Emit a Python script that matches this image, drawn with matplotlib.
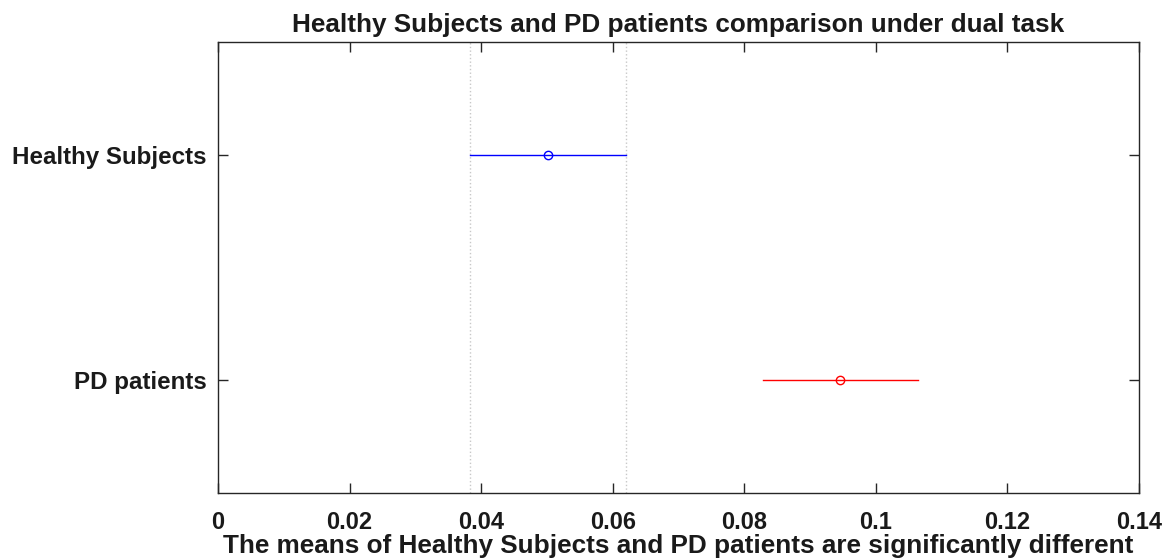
import matplotlib.pyplot as plt

plt.rcParams['font.family'] = ['Liberation Sans', 'DejaVu Sans']

groups = ["Healthy Subjects", "PD patients"]
means = [0.0501, 0.0945]
lower = [0.0383, 0.0828]
upper = [0.0620, 0.1064]
colors = ["blue", "red"]
xticks = [0, 0.02, 0.04, 0.06, 0.08, 0.1, 0.12, 0.14]
xtick_labels = ["0", "0.02", "0.04", "0.06", "0.08", "0.1", "0.12", "0.14"]

fig = plt.figure(figsize=(11.67, 5.59), dpi=100)
ax = fig.add_axes([218 / 1167, 1 - 493 / 559, 921 / 1167, 451 / 559])

ypos = [1, 2]
for y, m, lo, hi, c in zip(ypos, means, lower, upper, colors):
    ax.plot([lo, hi], [y, y], color=c, lw=1.0)
    ax.plot(m, y, 'o', mfc='none', mec=c, ms=6, mew=1.0)

# reference interval of the first group
ax.axvline(lower[0], color='#c8c8c8', ls=':', lw=1.0, zorder=0)
ax.axvline(upper[0], color='#c8c8c8', ls=':', lw=1.0, zorder=0)

ax.set_xlim(0, 0.14)
ax.set_ylim(2.5, 0.5)
ax.set_xticks(xticks)
ax.set_xticklabels(xtick_labels)
ax.set_yticks(ypos)
ax.set_yticklabels(groups)

ax.tick_params(direction='in', top=True, right=True, length=7, width=1,
               colors='#262626', labelcolor='#1a1a1a')
ax.tick_params(axis='x', pad=13, labelsize=17)
ax.tick_params(axis='y', pad=8, labelsize=17.4)
for lab in ax.get_xticklabels() + ax.get_yticklabels():
    lab.set_fontweight('bold')
for s in ax.spines.values():
    s.set_color('#262626')
    s.set_linewidth(1.0)

ax.set_title("Healthy Subjects and PD patients comparison under dual task",
             fontsize=18.8, fontweight='bold', pad=7, color='#1a1a1a')
ax.set_xlabel("The means of Healthy Subjects and PD patients are significantly different",
              fontsize=18.8, fontweight='bold', labelpad=0, color='#1a1a1a')

fig.savefig("out.png", dpi=100)
